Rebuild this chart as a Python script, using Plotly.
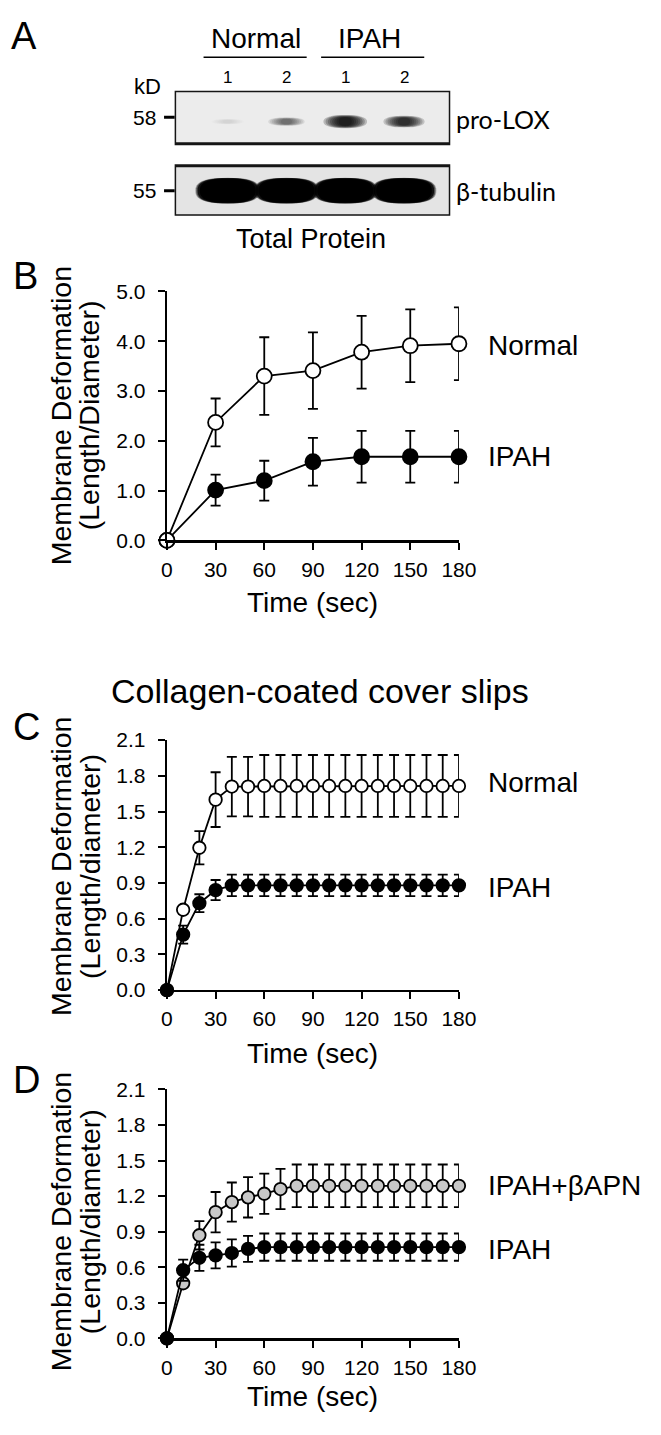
import math
import plotly.graph_objects as go

W, H = 661, 1435
ARIAL = "Liberation Sans, Arial, sans-serif"
CAL = "Lato, Carlito, Calibri, Liberation Sans, sans-serif"

# ---------------- Panel A (western blot) ----------------
lanes = [1, 2, 3, 4]
lane_labels = ["1", "2", "1", "2"]
group_names = ["Normal", "IPAH"]
prolox_intensity = [0.06, 0.40, 1.0, 0.80]
tubulin_intensity = [1.0, 1.0, 1.0, 1.0]
kd_labels = ["58", "55"]
row_labels = ["pro-LOX", "β-tubulin"]

# ---------------- Panel B ----------------
t_b = [0, 30, 60, 90, 120, 150, 180]
b_normal = [0, 2.37, 3.30, 3.41, 3.78, 3.91, 3.95]
b_normal_err = [0, 0.48, 0.78, 0.77, 0.73, 0.73, 0.73]
b_ipah = [0, 1.01, 1.20, 1.58, 1.68, 1.68, 1.68]
b_ipah_err = [0, 0.31, 0.40, 0.48, 0.52, 0.52, 0.52]

# ---------------- Panel C ----------------
t_cd = [0, 10, 20, 30, 40, 50, 60, 70, 80, 90, 100, 110, 120, 130, 140, 150, 160, 170, 180]
c_normal = [0, 0.675, 1.196, 1.60, 1.71, 1.71, 1.715, 1.715, 1.715, 1.715, 1.715, 1.715,
            1.715, 1.715, 1.715, 1.715, 1.715, 1.715, 1.715]
c_normal_err = [0, 0.03, 0.14, 0.23, 0.25, 0.25, 0.26, 0.26, 0.26, 0.26, 0.26, 0.26,
                0.26, 0.26, 0.26, 0.26, 0.26, 0.26, 0.26]
c_ipah = [0, 0.466, 0.73, 0.84, 0.88, 0.88, 0.88, 0.88, 0.88, 0.88, 0.88, 0.88,
          0.88, 0.88, 0.88, 0.88, 0.88, 0.88, 0.88]
c_ipah_err = [0, 0.075, 0.075, 0.085, 0.09, 0.09, 0.09, 0.09, 0.09, 0.09, 0.09, 0.09,
              0.09, 0.09, 0.09, 0.09, 0.09, 0.09, 0.09]

# ---------------- Panel D ----------------
d_bapn = [0, 0.465, 0.87, 1.065, 1.15, 1.19, 1.22, 1.26, 1.287, 1.287, 1.287, 1.287,
          1.287, 1.287, 1.287, 1.287, 1.287, 1.287, 1.287]
d_bapn_err = [0, 0.02, 0.12, 0.17, 0.165, 0.17, 0.17, 0.17, 0.18, 0.18, 0.18, 0.18,
              0.18, 0.18, 0.18, 0.18, 0.18, 0.18, 0.18]
d_ipah = [0, 0.575, 0.68, 0.70, 0.72, 0.755, 0.77, 0.77, 0.77, 0.77, 0.77, 0.77,
          0.77, 0.77, 0.77, 0.77, 0.77, 0.77, 0.77]
d_ipah_err = [0, 0.09, 0.11, 0.11, 0.115, 0.11, 0.115, 0.115, 0.115, 0.115, 0.115, 0.115,
              0.115, 0.115, 0.115, 0.115, 0.115, 0.115, 0.115]

x_ticks = [0, 30, 60, 90, 120, 150, 180]


def PX(x):
    return x / W


def PY(y):
    return 1 - y / H


fig = go.Figure()


def add_series(x, y, err, fill, xa, ya, name, ms):
    fig.add_trace(go.Scatter(
        x=x, y=y, mode="lines+markers", name=name,
        xaxis=xa, yaxis=ya, cliponaxis=False, showlegend=False, hoverinfo="skip",
        line=dict(color="black", width=1.8),
        marker=dict(size=ms, color=fill, line=dict(color="black", width=1.8)),
        error_y=dict(type="data", array=err, visible=True, color="black",
                     thickness=1.8, width=5),
    ))


# Panel B (IPAH first so Normal sits on top at t=0)
add_series(t_b, b_ipah, b_ipah_err, "black", "x", "y", "IPAH", 15)
add_series(t_b, b_normal, b_normal_err, "white", "x", "y", "Normal", 15)
# Panel C
add_series(t_cd, c_normal, c_normal_err, "white", "x2", "y2", "Normal", 12.5)
add_series(t_cd, c_ipah, c_ipah_err, "black", "x2", "y2", "IPAH", 12.5)
# Panel D
add_series(t_cd, d_bapn, d_bapn_err, "#c8c8c8", "x3", "y3", "IPAH+βAPN", 12.5)
add_series(t_cd, d_ipah, d_ipah_err, "black", "x3", "y3", "IPAH", 12.5)

xdom = [PX(167), PX(470)]
panels = {
    "": dict(yd=[PY(537), PY(284)], yr=[0, 5.0], dt=1.0),
    "2": dict(yd=[PY(994), PY(740)], yr=[0, 2.1], dt=0.3),
    "3": dict(yd=[PY(1348), PY(1095)], yr=[0, 2.1], dt=0.3),
}

layout_axes = {}
for k, p in panels.items():
    yvals = []
    v = 0.0
    while v <= p["yr"][1] + 1e-9:
        yvals.append(round(v, 2))
        v += p["dt"]
    layout_axes["xaxis" + k] = dict(
        domain=xdom, range=[0, 180], anchor="y" + k, showline=True, linecolor="black",
        linewidth=2.2, ticks="outside", ticklen=7, tickwidth=2, tickcolor="black",
        tickvals=x_ticks, ticktext=[str(t) for t in x_ticks], showgrid=False, zeroline=False,
        tickfont=dict(family=ARIAL, size=21, color="black"), ticklabelstandoff=2,
    )
    layout_axes["yaxis" + k] = dict(
        domain=p["yd"], range=p["yr"], anchor="x" + k, showline=True, linecolor="black",
        linewidth=2.2, ticks="outside", ticklen=7, tickwidth=2, tickcolor="black",
        tickvals=yvals, ticktext=["%.1f" % v for v in yvals], showgrid=False, zeroline=False,
        tickfont=dict(family=ARIAL, size=21, color="black"), ticklabelstandoff=8,
    )

# Blot axes: lanes 1..4 along x, rows (1 = pro-LOX, 0 = beta-tubulin) along y
layout_axes["xaxis4"] = dict(domain=[PX(175), PX(461)], range=[0.098, 4.787], anchor="y4",
                             visible=False, fixedrange=True)
layout_axes["yaxis4"] = dict(domain=[PY(207), PY(80)], range=[-0.34, 1.36], anchor="x4",
                             visible=False, fixedrange=True)


def superellipse(cx, cy, a, b, n=2.6, npts=56):
    pts = []
    for i in range(npts):
        th = 2 * math.pi * i / npts
        c, s = math.cos(th), math.sin(th)
        x = cx + a * (abs(c) ** (2 / n)) * (1 if c >= 0 else -1)
        y = cy + b * (abs(s) ** (2 / n)) * (1 if s >= 0 else -1)
        pts.append("%.4f,%.4f" % (x, y))
    return "M " + " L ".join(pts) + " Z"


shapes = []
# blot boxes
for yc, hh, bg in [(1.0, 0.36, "#ececec"), (0.0, 0.34, "#e4e4e4")]:
    shapes.append(dict(type="rect", xref="x4", yref="y4", x0=0.098, x1=4.787,
                       y0=yc - hh, y1=yc + hh, fillcolor=bg,
                       line=dict(color="#151515", width=3), layer="below"))
# pro-LOX bands (soft, layered)
for lane, inten in zip(lanes, prolox_intensity):
    halfw = 0.27 + 0.10 * inten
    halfh = 0.035 + 0.055 * inten
    for s in [1.0, 0.9, 0.8, 0.7, 0.6, 0.5, 0.4, 0.3]:
        shapes.append(dict(type="path", xref="x4", yref="y4",
                           path=superellipse(lane, 0.94, halfw * s, halfh * (0.5 + 0.5 * s), 2.4),
                           fillcolor="black", opacity=0.22 * inten,
                           line=dict(width=0), layer="above"))
# beta-tubulin bands
for lane, inten in zip(lanes, tubulin_intensity):
    for s, op in [(1.0, 0.3), (0.97, 0.5), (0.93, 0.8), (0.86, 1.0)]:
        shapes.append(dict(type="path", xref="x4", yref="y4",
                           path=superellipse(lane, 0.0, 0.55 * s, 0.175 * (0.6 + 0.4 * s), 2.6),
                           fillcolor="black", opacity=op * inten,
                           line=dict(width=0), layer="above"))
# kD marker ticks
for yv in [1.0, 0.0]:
    shapes.append(dict(type="line", xref="paper", yref="y4", x0=PX(164), x1=PX(175),
                       y0=yv, y1=yv, line=dict(color="black", width=3)))
# group underlines
shapes.append(dict(type="line", xref="paper", yref="paper", x0=PX(205), x1=PX(312),
                   y0=PY(46), y1=PY(46), line=dict(color="black", width=1.5)))
shapes.append(dict(type="line", xref="paper", yref="paper", x0=PX(327), x1=PX(434),
                   y0=PY(46), y1=PY(46), line=dict(color="black", width=1.5)))

ann = []


def text(x, y, s, size, family=ARIAL, angle=0, xanchor="center"):
    ann.append(dict(x=PX(x), y=PY(y), xref="paper", yref="paper", text=s, showarrow=False,
                    font=dict(family=family, size=size, color="black"), textangle=angle,
                    xanchor=xanchor, yanchor="middle"))


# Panel letters
text(19, 24, "A", 38)
text(20, 268, "B", 38)
text(21, 727, "C", 38)
text(21, 1085, "D", 38)

# Panel A texts
text(259, 27, group_names[0], 28)
text(377, 27, group_names[1], 28)
for lane, lab in zip(lanes, lane_labels):
    ann.append(dict(x=lane, y=PY(67), xref="x4", yref="paper", text=lab, showarrow=False,
                    font=dict(family=ARIAL, size=17, color="black"), yanchor="middle"))
text(147, 76, "kD", 22)
for yv, lab in zip([1.0, 0.0], kd_labels):
    ann.append(dict(x=PX(158), y=yv, xref="paper", yref="y4", text=lab, showarrow=False,
                    font=dict(family=ARIAL, size=21, color="black"), xanchor="right",
                    yanchor="middle"))
for yv, lab in zip([0.98, 0.0], row_labels):
    ann.append(dict(x=PX(465), y=yv, xref="paper", yref="y4", text=lab, showarrow=False,
                    font=dict(family=CAL, size=25, color="black"), xanchor="left",
                    yanchor="middle"))
text(316, 231, "Total Protein", 27)

# Panel B texts
text(57, 410, "Membrane Deformation", 28.5, angle=-90)
text(87, 410, "(Length/Diameter)", 28.5, angle=-90)
text(318, 600, "Time (sec)", 28)
text(498, 339, "Normal", 28, xanchor="left")
text(498, 452, "IPAH", 28, xanchor="left")

# Panel C texts
text(326, 690, "Collagen-coated cover slips", 34)
text(57, 868, "Membrane Deformation", 28.5, angle=-90)
text(87, 868, "(Length/diameter)", 28.5, angle=-90)
text(318, 1058, "Time (sec)", 28)
text(498, 783, "Normal", 28, xanchor="left")
text(498, 890, "IPAH", 28, xanchor="left")

# Panel D texts
text(57, 1229, "Membrane Deformation", 28.5, angle=-90)
text(87, 1229, "(Length/diameter)", 28.5, angle=-90)
text(318, 1407, "Time (sec)", 28)
text(498, 1193, "IPAH+βAPN", 28, xanchor="left")
text(498, 1258, "IPAH", 28, xanchor="left")

fig.update_layout(
    width=W, height=H, margin=dict(l=0, r=0, t=0, b=0),
    paper_bgcolor="white", plot_bgcolor="rgba(0,0,0,0)",
    shapes=shapes, annotations=ann, showlegend=False, hovermode=False,
    **layout_axes,
)

fig.write_html(
    "out.html",
    config={"displayModeBar": False, "staticPlot": True},
    post_script=("document.body.style.margin='0px';"
                 "document.documentElement.style.overflow='hidden';"
                 "document.body.style.overflow='hidden';"),
)
